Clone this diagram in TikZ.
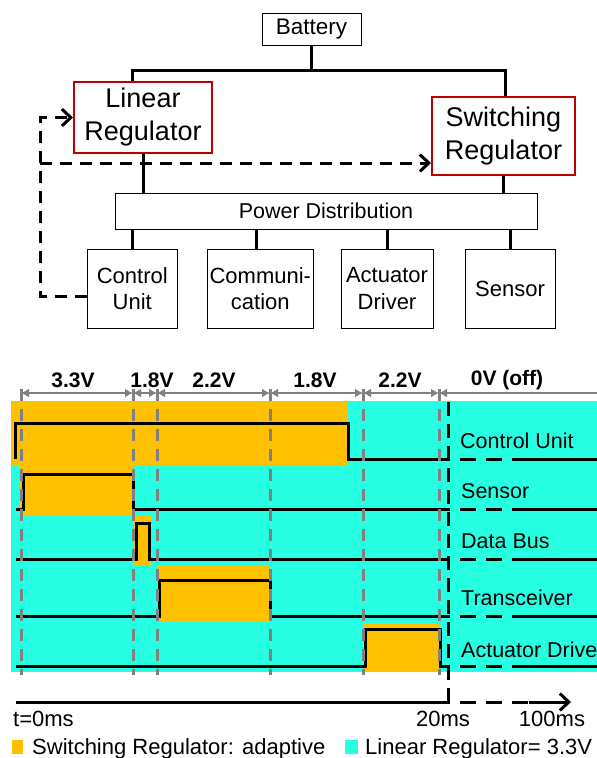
\documentclass[tikz,border=0pt]{standalone}
\usepackage{fontspec}
\setmainfont{Liberation Sans}
\usetikzlibrary{arrows.meta}
\definecolor{swc}{HTML}{FFC000}
\definecolor{lnc}{HTML}{26FFE1}
\definecolor{redb}{HTML}{C00000}
\definecolor{grd}{HTML}{808080}
\begin{document}
\begin{tikzpicture}[x=1pt,y=-1pt,
  box/.style={draw=black,line width=1pt,inner sep=0pt,align=center,font=\fontsize{22}{26.5}\selectfont},
  regbox/.style={draw=redb,line width=2pt,inner sep=0pt,align=center,font=\fontsize{27}{33}\selectfont},
  wire/.style={line width=3pt},
  fbline/.style={line width=3pt,dash pattern=on 12pt off 8pt},
  barb/.style={-{Straight Barb[length=9pt,width=17pt]}},
  dim/.style={draw=grd,line width=2pt,{Latex[length=8pt,width=9pt]}-{Latex[length=8pt,width=9pt]}},
  dimL/.style={draw=grd,line width=2pt,{Latex[length=8pt,width=9pt]}-},
  gdash/.style={draw=grd,line width=3pt,dash pattern=on 12pt off 8pt},
  kdash/.style={draw=black,line width=3pt,dash pattern=on 14pt off 8pt},
  sig/.style={draw=black,line width=3pt,line join=miter},
  sigdash/.style={draw=black,line width=3pt,dash pattern=on 16pt off 10pt,dash phase=-12pt},
  vlab/.style={font=\bfseries\fontsize{21}{24}\selectfont,inner sep=0pt},
  rlab/.style={font=\fontsize{21.5}{24}\selectfont,inner sep=0pt,anchor=base west},
  tlab/.style={font=\fontsize{22}{24}\selectfont,inner sep=0pt}
]
\useasboundingbox (0,0) rectangle (597,758);

% ---------------- block diagram ----------------
\node[box,minimum width=99pt,minimum height=32pt,font=\fontsize{22.5}{26}\selectfont] (bat) at (311.5,29) {Battery};
\node[regbox,minimum width=138pt,minimum height=71pt] (lin) at (143,117.5) {Linear\\Regulator};
\node[regbox,minimum width=143pt,minimum height=78pt] (sw) at (503.5,136) {Switching\\Regulator};
\node[box,minimum width=422pt,minimum height=36pt,font=\fontsize{21.5}{26}\selectfont] (pd) at (326,211) {Power Distribution};
\node[box,minimum width=90.5pt,minimum height=79pt] (cu) at (132.3,288.5) {Control\\Unit};
\node[box,minimum width=105.5pt,minimum height=79pt] (com) at (260.3,288.5) {Communi-\\cation};
\node[box,minimum width=92pt,minimum height=79pt] (act) at (387,288.5) {Actuator\\Driver};
\node[box,minimum width=90pt,minimum height=79pt] (sen) at (510,288.5) {Sensor};

\coordinate (split) at (311.5,70);
\draw[wire] (bat.south) -- (split);
\draw[wire] (split) -| ([xshift=-11pt]lin.north);
\draw[wire] (split) -| ([xshift=1.5pt]sw.north);
\draw[wire] (lin.south) -- (lin.south |- pd.north);
\draw[wire] (sw.south) -- (sw.south |- pd.north);
\draw[wire] (pd.south -| cu.north) -- (cu.north);
\draw[wire] ([xshift=-4pt]pd.south -| com.north) -- ([xshift=-4pt]com.north);
\draw[wire] (pd.south -| act.north) -- (act.north);
\draw[wire] (pd.south -| sen.north) -- (sen.north);

\coordinate (fb) at (40,163);
\draw[fbline,barb] ([yshift=-7.5pt]cu.west) -| (fb) |- (lin.west);
\draw[fbline,barb] (fb) -- (fb -| sw.west);

% ---------------- timing diagram ----------------
\fill[lnc] (11,401) rectangle (597,672);
\fill[swc] (11,401) rectangle (348,466);
\fill[swc] (20,466) rectangle (133,516);
\fill[swc] (133,516) rectangle (152,565);
\fill[swc] (158,566) rectangle (269,622);
\fill[swc] (363,623) rectangle (439,672);

% signals
\draw[sig] (15,459) -- (15,423) -- (348,423) -- (348,459) -- (448,459);
\draw[sig] (16,509) -- (23,509) -- (23,474) -- (133,474) -- (133,509) -- (448,509);
\draw[sig] (16,559) -- (136,559) -- (136,523) -- (149,523) -- (149,559) -- (448,559);
\draw[sig] (16,616) -- (159,616) -- (159,580) -- (270,580) -- (270,616) -- (448,616);
\draw[sig] (16,666) -- (365,666) -- (365,629) -- (440,629) -- (440,666) -- (448,666);
\foreach \y in {459,509,559,616,666}{
  \draw[sigdash] (448,\y) -- (527,\y);
  \draw[sig] (527,\y) -- (597,\y);
}

% grey phase markers
\foreach \x in {21,133,157,270,363,439}
  \draw[gdash] (\x,389) -- (\x,675);
\foreach \a/\b in {21/133,133/157,157/270,270/363,363/439}
  \draw[dim] (\a,393) -- (\b,393);
\draw[dimL] (439,393) -- (600,393);

% voltage labels
\node[vlab] (v1) at (73,380) {3.3V};
\node[vlab] (v2) at (152,380) {1.8V};
\node[vlab] (v3) at (214,380) {2.2V};
\node[vlab] (v4) at (315,380) {1.8V};
\node[vlab] (v5) at (400,380) {2.2V};
\node[vlab] (v6) at (507,380) {0V (off)};

% 20 ms marker
\draw[kdash] (448,402) -- (448,709);

% row labels
\node[rlab] (lcu) at (460,448) {Control Unit};
\node[rlab] (lse) at (461,498) {Sensor};
\node[rlab] (ldb) at (461,548) {Data Bus};
\node[rlab] (ltr) at (461,605) {Transceiver};
\node[rlab] (lac) at (461,657) {Actuator Drive};

% time axis
\coordinate (t0) at (16,702);
\coordinate (t20) at (448,702);
\coordinate (tb) at (529,702);
\coordinate (tend) at (571,702);
\draw[wire] (t0) -- (t20);
\draw[sigdash] (t20) -- (tb);
\draw[wire,-{Straight Barb[length=9pt,width=17pt]}] (tb) -- (tend);
\node[tlab,anchor=base west] (l0) at (13,726) {t=0ms};
\node[tlab,anchor=base] (l20) at (443,726) {20ms};
\node[tlab,anchor=base] (l100) at (552,726) {100ms};

% legend
\fill[swc] (12,740) rectangle (23,754);
\node[tlab,anchor=base west] (lg1) at (32,754) {Switching Regulator: adaptive};
\fill[lnc] (345,740) rectangle (358,754);
\node[tlab,anchor=base west] (lg2) at (365,754) {Linear Regulator= 3.3V};
\end{tikzpicture}
\end{document}
